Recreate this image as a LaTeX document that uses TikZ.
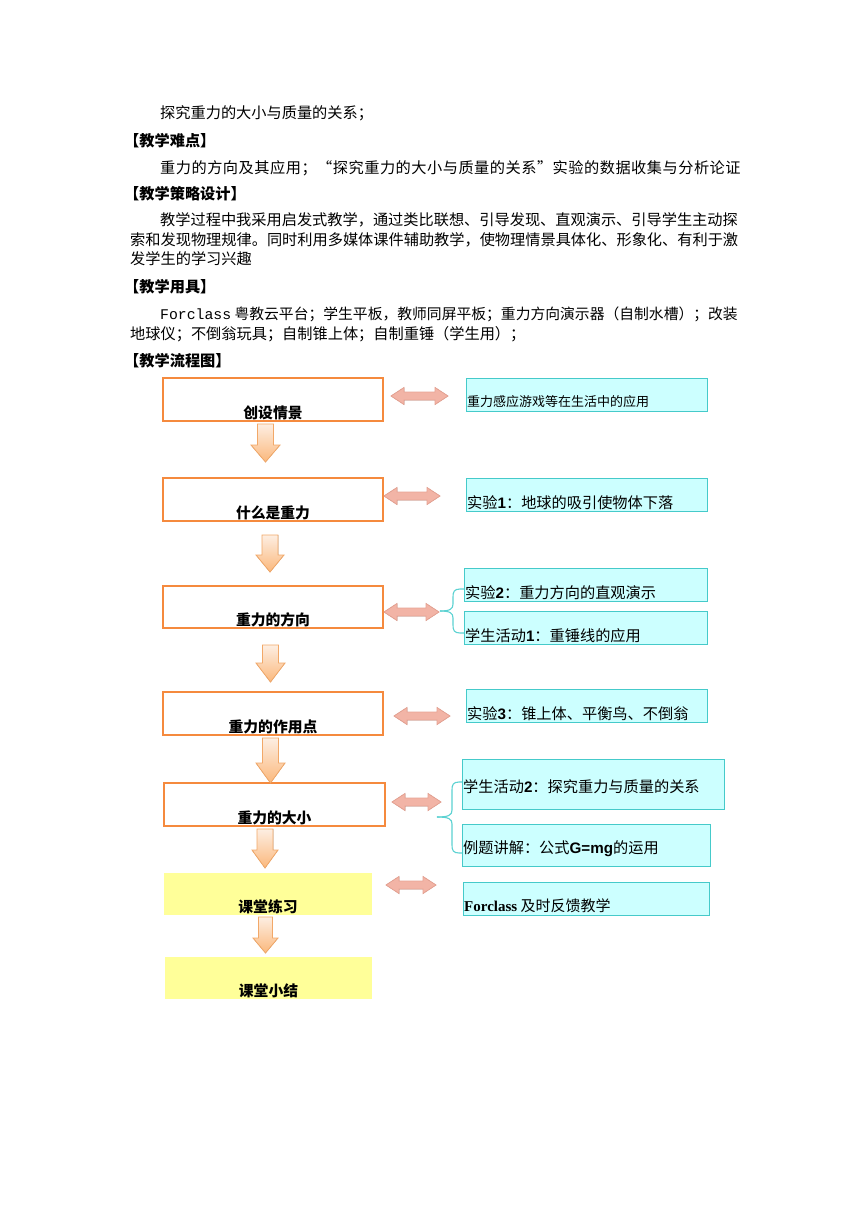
\documentclass[tikz,border=0pt]{standalone}
\usepackage{fontspec}
\setmainfont{Noto Sans CJK SC}
\newfontfamily\arialf{Liberation Sans}
\newfontfamily\monof{Liberation Mono}
\newfontfamily\serff{Liberation Serif}
\definecolor{orangeline}{HTML}{F58A3E}
\definecolor{cyanfill}{HTML}{CCFFFF}
\definecolor{cyanline}{HTML}{45CACA}
\definecolor{yellowfill}{HTML}{FFFF99}
\definecolor{darrtop}{HTML}{FDEEE2}
\definecolor{darrbot}{HTML}{FBB87C}
\definecolor{darrline}{HTML}{F2A868}
\definecolor{harrend}{HTML}{F2B4A6}
\definecolor{harrmid}{HTML}{FCE6E0}
\definecolor{harrline}{HTML}{E8A494}
\definecolor{bracecol}{HTML}{5CD2D2}
\newcommand{\darr}[6]{% cx, ytop, yhead, ytip, halfshaft, halfhead
  \filldraw[darrow] ({#1-#5},#2) -- ({#1+#5},#2) -- ({#1+#5},#3) -- ({#1+#6},#3) -- (#1,#4) -- ({#1-#6},#3) -- ({#1-#5},#3) -- cycle;}
\newcommand{\harr}[3]{% x1, x2, y
  \filldraw[harrow] (#1,#3) -- ({#1+13},{#3-8.5}) -- ({#1+13},{#3-4}) -- ({#2-13},{#3-4}) -- ({#2-13},{#3-8.5}) -- (#2,#3) -- ({#2-13},{#3+8.5}) -- ({#2-13},{#3+4}) -- ({#1+13},{#3+4}) -- ({#1+13},{#3+8.5}) -- cycle;}
\begin{document}
\begin{tikzpicture}[x=1pt,y=-1pt,
  body/.style={anchor=west, inner sep=0pt, font=\fontsize{15.2}{18}\selectfont},
  headtxt/.style={anchor=west, inner sep=0pt, font=\fontsize{15.2}{18}\selectfont\bfseries},
  lbox/.style={draw=orangeline, line width=1.2pt, fill=white, inner sep=0pt},
  ybox/.style={fill=yellowfill, inner sep=0pt},
  ltext/.style={inner sep=0pt, anchor=center, font=\fontsize{14.8}{17}\selectfont\bfseries},
  rbox/.style={draw=cyanline, line width=1.2pt, fill=cyanfill, inner sep=0pt, anchor=north west},
  rtext/.style={inner sep=0pt, anchor=west, font=\fontsize{15.2}{17}\selectfont},
  darrow/.style={draw=darrline, line width=0.8pt, top color=darrtop, bottom color=darrbot},
  harrow/.style={draw=harrline, line width=0.8pt, top color=harrend, middle color=harrmid, bottom color=harrend},
  bracec/.style={draw=bracecol, line width=1.1pt}]
\useasboundingbox[fill=white] (0,0) rectangle (860,1216);

% ---------- text above the chart ----------
\node[body] (l1) at (160,113) {探究重力的大小与质量的关系；};
\node[headtxt] (h1) at (124,141) {【教学难点】};
\node[body, font=\fontsize{15.2}{18}\selectfont\addfontfeature{LetterSpace=3.3}] (l2) at (160,168) {重力的方向及其应用；“探究重力的大小与质量的关系”实验的数据收集与分析论证};
\node[headtxt] (h2) at (124,194) {【教学策略设计】};
\node[body] (l3) at (160,220) {教学过程中我采用启发式教学，通过类比联想、引导发现、直观演示、引导学生主动探};
\node[body] (l4) at (130,240) {索和发现物理规律。同时利用多媒体课件辅助教学，使物理情景具体化、形象化、有利于激};
\node[body] (l5) at (130,259) {发学生的学习兴趣};
\node[headtxt] (h3) at (124,287) {【教学用具】};
\node[body, font=\fontsize{14.8}{18}\selectfont] (l6) at (160,314) {{\monof Forclass} 粤教云平台；学生平板，教师同屏平板；重力方向演示器（自制水槽）；改装};
\node[body] (l7) at (130,334) {地球仪；不倒翁玩具；自制锥上体；自制重锤（学生用）；};
\node[headtxt] (h4) at (124,361) {【教学流程图】};

% ---------- left column ----------
\node[lbox, minimum width=220pt, minimum height=43pt] (b1) at (273,399.5) {};
\node[ltext] (t1) at ([yshift=8.5pt]b1.south) {创设情景};
\node[lbox, minimum width=220pt, minimum height=43pt] (b2) at (273,499.5) {};
\node[ltext] (t2) at ([yshift=8.5pt]b2.south) {什么是重力};
\node[lbox, minimum width=220pt, minimum height=42pt] (b3) at (273,607) {};
\node[ltext] (t3) at ([yshift=8.5pt]b3.south) {重力的方向};
\node[lbox, minimum width=220pt, minimum height=43pt] (b4) at (273,713.5) {};
\node[ltext] (t4) at ([yshift=8.5pt]b4.south) {重力的作用点};
\node[lbox, minimum width=221pt, minimum height=43pt] (b5) at (274.5,804.5) {};
\node[ltext] (t5) at ([yshift=8.5pt]b5.south) {重力的大小};
\node[ybox, minimum width=208pt, minimum height=42pt] (b6) at (268,894) {};
\node[ltext] (t6) at ([yshift=8.5pt]b6.south) {课堂练习};
\node[ybox, minimum width=207pt, minimum height=42pt] (b7) at (268.5,978) {};
\node[ltext] (t7) at ([yshift=8.5pt]b7.south) {课堂小结};

% ---------- down arrows ----------
\darr{265.5}{424}{445}{462}{8}{14.5}
\darr{270}{535}{555}{572}{8}{14}
\darr{270.5}{645}{663}{682}{8}{14.5}
\darr{270.5}{738}{763}{783}{8}{14.5}
\darr{265}{829}{850}{868}{8}{13}
\darr{265.5}{917}{938}{953}{7}{12.5}

% ---------- right column ----------
\node[rbox, minimum width=241pt, minimum height=33pt] (r1) at (466,378) {};
\node[rtext, font=\fontsize{13}{15}\selectfont] (s1) at ([xshift=1pt,yshift=11pt]r1.south west) {重力感应游戏等在生活中的应用};
\node[rbox, minimum width=241pt, minimum height=33pt] (r2) at (466,478) {};
\node[rtext] (s2) at ([xshift=1pt,yshift=10pt]r2.south west) {实验{\arialf\bfseries 1}：地球的吸引使物体下落};
\node[rbox, minimum width=243pt, minimum height=33pt] (r3) at (464,568) {};
\node[rtext] (s3) at ([xshift=1pt,yshift=10pt]r3.south west) {实验{\arialf\bfseries 2}：重力方向的直观演示};
\node[rbox, minimum width=243pt, minimum height=33pt] (r4) at (464,611) {};
\node[rtext] (s4) at ([xshift=1pt,yshift=10pt]r4.south west) {学生活动{\arialf\bfseries 1}：重锤线的应用};
\node[rbox, minimum width=241pt, minimum height=33pt] (r5) at (466,689) {};
\node[rtext] (s5) at ([xshift=1pt,yshift=10pt]r5.south west) {实验{\arialf\bfseries 3}：锥上体、平衡鸟、不倒翁};
\node[rbox, minimum width=262pt, minimum height=50pt] (r6) at (462,759) {};
\node[rtext] (s6) at ([xshift=1pt,yshift=24pt]r6.south west) {学生活动{\arialf\bfseries 2}：探究重力与质量的关系};
\node[rbox, minimum width=248pt, minimum height=42pt] (r7) at (462,824) {};
\node[rtext] (s7) at ([xshift=1pt,yshift=19pt]r7.south west) {例题讲解：公式{\arialf\bfseries G=mg}的运用};
\node[rbox, minimum width=246pt, minimum height=33pt] (r8) at (463,882) {};
\node[rtext, font=\fontsize{15}{17}\selectfont] (s8) at ([xshift=1pt,yshift=10pt]r8.south west) {{\serff\bfseries Forclass} 及时反馈教学};

% ---------- double arrows ----------
\harr{391}{448}{396}
\harr{384}{440}{496}
\harr{384}{439}{612}
\harr{394}{450}{716}
\harr{392}{441}{802}
\harr{386}{436}{885}

% ---------- braces ----------
\draw[bracec] (464,589) -- (460,589) .. controls (454,589) and (453,592) .. (453,597) -- (453,604) .. controls (453,609) and (450,611) .. (440,611);
\draw[bracec] (464,633) -- (460,633) .. controls (454,633) and (453,630) .. (453,625) -- (453,618) .. controls (453,613) and (450,611) .. (440,611);
\draw[bracec] (462,782) -- (459,782) .. controls (453,782) and (452,785) .. (452,790) -- (452,810) .. controls (452,815) and (449,817) .. (437,817);
\draw[bracec] (462,853) -- (459,853) .. controls (453,853) and (452,850) .. (452,845) -- (452,824) .. controls (452,819) and (449,817) .. (437,817);
\end{tikzpicture}
\end{document}
